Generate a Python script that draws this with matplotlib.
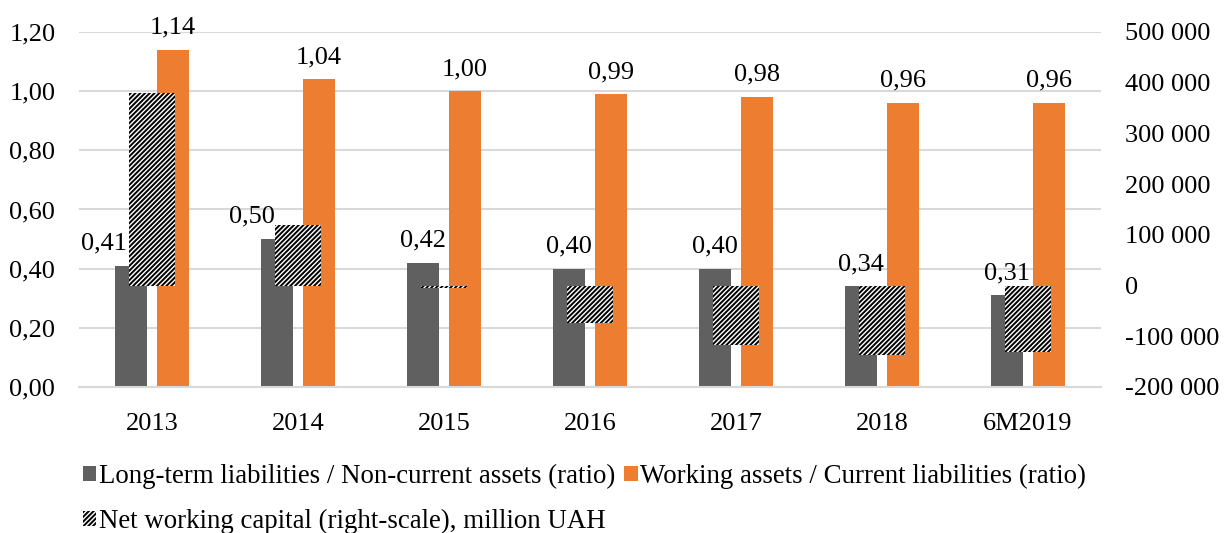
import matplotlib
matplotlib.use("Agg")
import matplotlib.pyplot as plt
import numpy as np
from matplotlib.ticker import FuncFormatter

categories = ["2013", "2014", "2015", "2016", "2017", "2018", "6M2019"]
lt_ratio = [0.41, 0.50, 0.42, 0.40, 0.40, 0.34, 0.31]
wa_ratio = [1.14, 1.04, 1.00, 0.99, 0.98, 0.96, 0.96]
nwc = [379000, 120000, -5000, -73000, -118000, -136000, -132000]

GREY = "#606060"
ORANGE = "#ED7D31"
GRID = "#d9d9d9"

plt.rcParams['font.family'] = ['Liberation Serif', 'DejaVu Serif']
plt.rcParams['hatch.linewidth'] = 1.4
FS = 19

fig = plt.figure(figsize=(12.28, 5.33), dpi=100)
ax = fig.add_axes([0.0643, 0.274, 0.8323, 0.666])
ax2 = ax.twinx()

x = np.arange(len(categories))
bw = 0.219
off = 0.144
b1 = ax.bar(x - off, lt_ratio, bw, color=GREY, zorder=2,
            label="Long-term liabilities / Non-current assets (ratio)")
b2 = ax.bar(x + off, wa_ratio, bw, color=ORANGE, zorder=2,
            label="Working assets / Current liabilities (ratio)")
b3 = ax2.bar(x, nwc, 0.315, facecolor="white", edgecolor="black", hatch="///////",
             linewidth=0, zorder=3, label="Net working capital (right-scale), million UAH")

ax.set_xlim(-0.5, len(categories) - 0.5)
ax.set_ylim(0, 1.2)
ax.set_yticks(np.arange(0, 1.21, 0.2))
ax2.set_ylim(-200000, 500000)
ax2.set_yticks(np.arange(-200000, 500001, 100000))

ax.yaxis.set_major_formatter(FuncFormatter(lambda v, p: f"{v:.2f}".replace(".", ",")))
ax2.yaxis.set_major_formatter(FuncFormatter(lambda v, p: f"{int(round(v)):,}".replace(",", " ")))

ax.set_xticks(x)
ax.set_xticklabels(categories)
ax.grid(axis="y", color=GRID, linewidth=1.5, zorder=0)
ax.set_axisbelow(True)
for a in (ax, ax2):
    for s in a.spines.values():
        s.set_visible(False)
    a.tick_params(length=0, labelsize=FS)
ax.spines["bottom"].set_visible(True)
ax.spines["bottom"].set_color(GRID)
ax.spines["bottom"].set_linewidth(1.5)
ax.tick_params(axis="y", pad=17)
ax.tick_params(axis="x", pad=19)
ax2.tick_params(axis="y", pad=17)

# data labels
for i, v in enumerate(lt_ratio):
    dx = 0.0
    if i == 0:
        dx = -0.185
    elif i == 1:
        dx = -0.17
    ax.annotate(f"{v:.2f}".replace(".", ","), (x[i] - off + dx, v), xytext=(0, 8),
                textcoords="offset points", ha="center", va="bottom", fontsize=FS, zorder=5)
for i, v in enumerate(wa_ratio):
    ax.annotate(f"{v:.2f}".replace(".", ","), (x[i] + off, v), xytext=(0, 8),
                textcoords="offset points", ha="center", va="bottom", fontsize=FS, zorder=5)

ax.set_zorder(ax2.get_zorder() - 1)
ax.patch.set_visible(False)
ax2.patch.set_visible(False)

fig.legend(handles=[b1, b3, b2], loc="upper left", bbox_to_anchor=(0.0676, 0.130), ncol=2,
           frameon=False, fontsize=19.4, handlelength=0.5, handleheight=0.5,
           handletextpad=0.08, columnspacing=0.35, labelspacing=0.75,
           borderaxespad=0, borderpad=0)

fig.savefig("out.png", dpi=100)
